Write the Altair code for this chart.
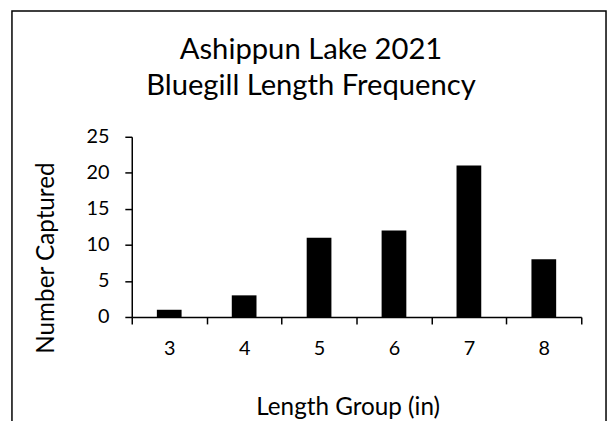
import altair as alt
import pandas as pd

length_groups = [3, 4, 5, 6, 7, 8]
counts = [1, 3, 11, 12, 21, 8]
title_lines = ["Ashippun Lake 2021", "Bluegill Length Frequency"]
y_ticks = [0, 5, 10, 15, 20, 25]
x_tick_bounds = [2.5, 3.5, 4.5, 5.5, 6.5, 7.5, 8.5]
x_title = "Length Group (in)"
y_title = "Number Captured"

df = pd.DataFrame({"group": length_groups, "count": counts})

FONT = "Lato"
HALF = 0.165
W, H = 454, 182

bars = alt.Chart(df).transform_calculate(
    lo=f"datum.group - {HALF}", hi=f"datum.group + {HALF}"
).mark_bar(color="black").encode(
    x=alt.X("lo:Q",
            scale=alt.Scale(domain=[2.5, 8.5], nice=False, zero=False),
            axis=alt.Axis(values=x_tick_bounds,
                          labelExpr="datum.value < 8 ? toString(datum.value + 0.5) : ''",
                          labelOffset=W / 12, labelFlush=False, labelOverlap=False,
                          labelBound=False, labelBaseline="alphabetic", labelPadding=31,
                          tickSize=7, titleX=218, titleY=98, titleBaseline="alphabetic",
                          titleAlign="center"),
            title=x_title),
    x2="hi:Q",
    y=alt.Y("count:Q",
            scale=alt.Scale(domain=[0, 25], nice=False),
            axis=alt.Axis(values=y_ticks, tickSize=7, labelPadding=16,
                          titleX=-86, titleY=122, titleAngle=270,
                          titleBaseline="middle", titleAlign="center"),
            title=y_title),
    y2=alt.datum(0),
)

frame = alt.Chart(pd.DataFrame({"a": [0]})).mark_rect(
    fillOpacity=0, stroke="black", strokeWidth=1.5
).encode(x=alt.value(-121), x2=alt.value(479), y=alt.value(-127), y2=alt.value(400))

t1 = alt.Chart(pd.DataFrame({"t": [title_lines[0]]})).mark_text(
    font=FONT, fontSize=29.5, color="black", baseline="alphabetic", align="center"
).encode(text="t:N", x=alt.value(181), y=alt.value(-79))

t2 = alt.Chart(pd.DataFrame({"t": [title_lines[1]]})).mark_text(
    font=FONT, fontSize=29.5, color="black", baseline="alphabetic", align="center"
).encode(text="t:N", x=alt.value(181), y=alt.value(-42))

chart = alt.layer(frame, bars, t1, t2).properties(
    width=W, height=H, autosize="none",
    padding={"left": 125, "top": 128, "right": 27, "bottom": 103},
    background="white",
).configure_view(strokeWidth=0).configure_axis(
    labelFont=FONT, titleFont=FONT, labelFontSize=20, titleFontSize=24.5,
    labelColor="black", titleColor="black", domainColor="black", tickColor="black",
    domainWidth=1.5, tickWidth=1.5, grid=False, titleFontWeight="normal",
)

chart.save("out.html", embed_options={"renderer": "svg", "actions": False})
